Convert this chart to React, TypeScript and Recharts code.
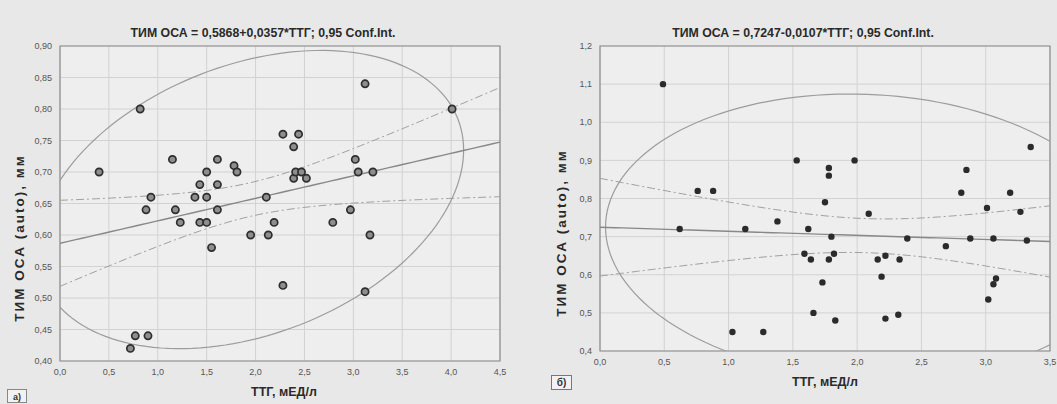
import { ScatterChart, Scatter, XAxis, YAxis, CartesianGrid, ReferenceArea } from "recharts";

// panel a): ТТГ vs ТИМ ОСА
const leftTsh = [0.40, 0.82, 0.88, 0.93, 1.15, 1.18, 1.23, 1.38, 1.43, 1.43, 1.50, 1.50, 1.50, 1.55, 1.61, 1.61, 1.61, 1.78, 1.81, 1.95, 2.11, 2.13, 2.19, 2.28, 2.28, 2.39, 2.39, 2.44, 2.41, 2.47, 2.52, 2.79, 2.97, 3.02, 3.05, 3.12, 3.12, 3.17, 3.20, 4.01, 0.72, 0.77, 0.90];
const leftImt = [0.70, 0.80, 0.64, 0.66, 0.72, 0.64, 0.62, 0.66, 0.68, 0.62, 0.70, 0.66, 0.62, 0.58, 0.72, 0.68, 0.64, 0.71, 0.70, 0.60, 0.66, 0.60, 0.62, 0.76, 0.52, 0.74, 0.69, 0.76, 0.70, 0.70, 0.69, 0.62, 0.64, 0.72, 0.70, 0.84, 0.51, 0.60, 0.70, 0.80, 0.42, 0.44, 0.44];
const leftCoef = { a: 0.5868, b: 0.0357 };
const leftXTicks = [0, 0.5, 1.0, 1.5, 2.0, 2.5, 3.0, 3.5, 4.0, 4.5];
const leftYTicks = [0.40, 0.45, 0.50, 0.55, 0.60, 0.65, 0.70, 0.75, 0.80, 0.85, 0.90];

// panel б)
const rightTsh = [0.49, 0.62, 0.76, 0.88, 1.03, 1.13, 1.27, 1.38, 1.53, 1.59, 1.62, 1.64, 1.66, 1.73, 1.75, 1.78, 1.78, 1.78, 1.80, 1.82, 1.83, 1.98, 2.09, 2.16, 2.19, 2.22, 2.22, 2.32, 2.33, 2.39, 2.69, 2.81, 2.85, 2.88, 3.01, 3.02, 3.06, 3.08, 3.06, 3.19, 3.27, 3.32, 3.35];
const rightImt = [1.10, 0.72, 0.82, 0.82, 0.45, 0.72, 0.45, 0.74, 0.90, 0.655, 0.72, 0.64, 0.50, 0.58, 0.79, 0.88, 0.86, 0.64, 0.70, 0.655, 0.48, 0.90, 0.76, 0.64, 0.595, 0.65, 0.485, 0.495, 0.64, 0.695, 0.675, 0.815, 0.875, 0.695, 0.775, 0.535, 0.575, 0.59, 0.695, 0.815, 0.765, 0.69, 0.935];
const rightCoef = { a: 0.7247, b: -0.0107 };
const rightXTicks = [0, 0.5, 1.0, 1.5, 2.0, 2.5, 3.0, 3.5];
const rightYTicks = [0.4, 0.5, 0.6, 0.7, 0.8, 0.9, 1.0, 1.1, 1.2];

const T_975 = 2.02; // t(0.975; 41)
const F_95 = 3.226; // F(0.95; 2, 41)

const FONT = '"Liberation Sans", Arial, sans-serif';

function mean(v: number[]) {
  return v.reduce((s, x) => s + x, 0) / v.length;
}

// fitted line and 95% confidence band
function regression(xs: number[], ys: number[], coef: { a: number; b: number }, xMax: number) {
  const n = xs.length;
  const mx = mean(xs);
  const sxx = xs.reduce((s, x) => s + (x - mx) ** 2, 0);
  const sse = xs.reduce((s, x, i) => s + (ys[i] - coef.a - coef.b * x) ** 2, 0);
  const se = Math.sqrt(sse / (n - 2));
  const fit: { x: number; y: number }[] = [];
  const up: { x: number; y: number }[] = [];
  const lo: { x: number; y: number }[] = [];
  const steps = 60;
  for (let i = 0; i <= steps; i++) {
    const x = (xMax * i) / steps;
    const yh = coef.a + coef.b * x;
    const h = T_975 * se * Math.sqrt(1 / n + (x - mx) ** 2 / sxx);
    fit.push({ x, y: yh });
    up.push({ x, y: yh + h });
    lo.push({ x, y: yh - h });
  }
  return { fit, up, lo };
}

// 95% prediction ellipse of the points
function ellipse(xs: number[], ys: number[]) {
  const n = xs.length;
  const mx = mean(xs);
  const my = mean(ys);
  const sx = Math.sqrt(xs.reduce((s, x) => s + (x - mx) ** 2, 0) / (n - 1));
  const sy = Math.sqrt(ys.reduce((s, y) => s + (y - my) ** 2, 0) / (n - 1));
  const r = xs.reduce((s, x, i) => s + (x - mx) * (ys[i] - my), 0) / ((n - 1) * sx * sy);
  const k = Math.sqrt(((2 * (n - 1) * (n + 1)) / (n * (n - 2))) * F_95);
  const pts: { x: number; y: number }[] = [];
  const steps = 160;
  for (let i = 0; i <= steps; i++) {
    const t = (2 * Math.PI * i) / steps;
    pts.push({
      x: mx + k * sx * Math.cos(t),
      y: my + k * sy * (r * Math.cos(t) + Math.sqrt(1 - r * r) * Math.sin(t)),
    });
  }
  return pts;
}

const noShape = () => <g />;

const tickStyle = { fontSize: 9, fill: "#555", fontFamily: FONT };

function Panel(props: {
  xs: number[];
  ys: number[];
  coef: { a: number; b: number };
  xTicks: number[];
  yTicks: number[];
  yDigits: number;
  width: number;
  margin: { top: number; right: number; bottom: number; left: number };
  yAxisWidth: number;
  hollow: boolean;
}) {
  const { xs, ys, coef, xTicks, yTicks, yDigits } = props;
  const xMax = xTicks[xTicks.length - 1];
  const yMin = yTicks[0];
  const yMax = yTicks[yTicks.length - 1];
  const pts = xs.map((x, i) => ({ x, y: ys[i] }));
  const { fit, up, lo } = regression(xs, ys, coef, xMax);
  const ell = ellipse(xs, ys);
  const dot = (p: any) =>
    props.hollow ? (
      <circle cx={p.cx} cy={p.cy} r={3.6} fill="#8e8e8e" stroke="#2e2e2e" strokeWidth={1.7} />
    ) : (
      <circle cx={p.cx} cy={p.cy} r={3.2} fill="#2b2b2b" />
    );
  return (
    <ScatterChart width={props.width} height={404} margin={props.margin}>
      <CartesianGrid stroke="#d2d2d2" fill="#eeeeee" fillOpacity={1} />
      <XAxis
        type="number"
        dataKey="x"
        domain={[0, xMax]}
        ticks={xTicks}
        allowDataOverflow
        height={30}
        tickFormatter={(v: number) => v.toFixed(1).replace(".", ",")}
        tick={tickStyle}
        tickLine={false}
        axisLine={false}
      />
      <YAxis
        type="number"
        dataKey="y"
        domain={[yMin, yMax]}
        ticks={yTicks}
        allowDataOverflow
        width={props.yAxisWidth}
        tickFormatter={(v: number) => v.toFixed(yDigits).replace(".", ",")}
        tick={tickStyle}
        tickLine={false}
        axisLine={false}
      />
      <Scatter data={ell} shape={noShape} line={{ stroke: "#9c9c9c", strokeWidth: 1.2, fill: "none" }} isAnimationActive={false} />
      <Scatter data={up} shape={noShape} line={{ stroke: "#a0a0a0", strokeWidth: 1, strokeDasharray: "8 3 2 3", fill: "none" }} isAnimationActive={false} />
      <Scatter data={lo} shape={noShape} line={{ stroke: "#a0a0a0", strokeWidth: 1, strokeDasharray: "8 3 2 3", fill: "none" }} isAnimationActive={false} />
      <Scatter data={fit} shape={noShape} line={{ stroke: "#888", strokeWidth: 1.4, fill: "none" }} isAnimationActive={false} />
      <Scatter data={pts} shape={dot} isAnimationActive={false} />
      <ReferenceArea x1={0} x2={xMax} y1={yMin} y2={yMax} fill="none" stroke="#8c8c8c" strokeWidth={1.2} ifOverflow="visible" />
    </ScatterChart>
  );
}

export default function App() {
  const titleStyle = { fontSize: 12.3, fontWeight: 700, fill: "#2a2a2a", fontFamily: FONT };
  const axisTitle = { fontSize: 12.5, fontWeight: 700, fill: "#2a2a2a", fontFamily: FONT };
  const yTitle = { fontSize: 13.5, fontWeight: 700, fill: "#2a2a2a", fontFamily: FONT, letterSpacing: 2 };
  return (
    <div style={{ position: "absolute", left: 0, top: 0, width: 1057, height: 404, overflow: "hidden", background: "#e8e8e8" }}>
      <div style={{ position: "absolute", left: 0, top: 0 }}>
        <Panel
          xs={leftTsh}
          ys={leftImt}
          coef={leftCoef}
          xTicks={leftXTicks}
          yTicks={leftYTicks}
          yDigits={2}
          width={530}
          margin={{ top: 46, right: 30, bottom: 13, left: 0 }}
          yAxisWidth={60}
          hollow
        />
      </div>
      <div style={{ position: "absolute", left: 530, top: 0 }}>
        <Panel
          xs={rightTsh}
          ys={rightImt}
          coef={rightCoef}
          xTicks={rightXTicks}
          yTicks={rightYTicks}
          yDigits={1}
          width={527}
          margin={{ top: 46, right: 7, bottom: 23, left: 0 }}
          yAxisWidth={70}
          hollow={false}
        />
      </div>
      <svg width={1057} height={404} style={{ position: "absolute", left: 0, top: 0, pointerEvents: "none" }}>
        <text x={263} y={37} textAnchor="middle" style={titleStyle}>ТИМ ОСА = 0,5868+0,0357*ТТГ; 0,95 Conf.Int.</text>
        <text x={803} y={37} textAnchor="middle" style={titleStyle}>ТИМ ОСА = 0,7247-0,0107*ТТГ; 0,95 Conf.Int.</text>
        <text x={24} y={238} textAnchor="middle" transform="rotate(-90 24 238)" style={yTitle}>ТИМ ОСА (auto), мм</text>
        <text x={566} y={233} textAnchor="middle" transform="rotate(-90 566 233)" style={yTitle}>ТИМ ОСА (auto), мм</text>
        <text x={284} y={396} textAnchor="middle" style={axisTitle}>ТТГ, мЕД/л</text>
        <text x={825} y={386} textAnchor="middle" style={axisTitle}>ТТГ, мЕД/л</text>
        <rect x={551.5} y={375.5} width={20} height={14} fill="#f2f2f2" stroke="#777" />
        <text x={561.5} y={386} textAnchor="middle" style={{ fontSize: 10, fontWeight: 700, fill: "#333", fontFamily: FONT }}>б)</text>
        <rect x={7.5} y={389.5} width={19} height={13} fill="#f2f2f2" stroke="#888" />
        <text x={17} y={399.5} textAnchor="middle" style={{ fontSize: 9, fontWeight: 700, fill: "#333", fontFamily: FONT }}>а)</text>
      </svg>
    </div>
  );
}
